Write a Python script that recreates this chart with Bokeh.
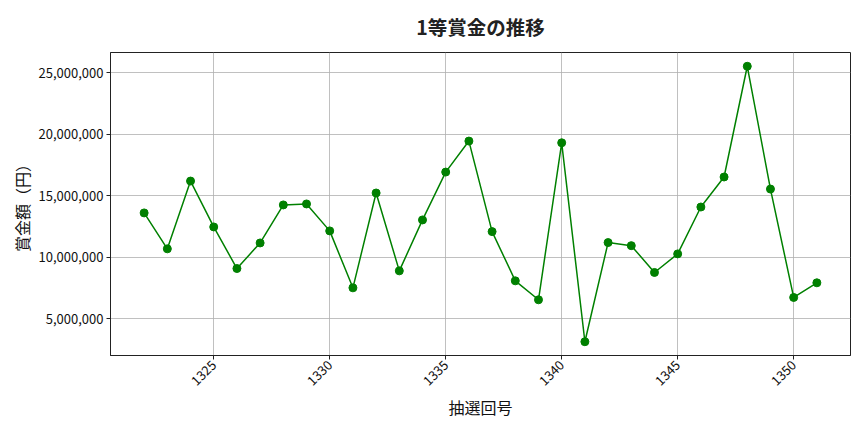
import math
from bokeh.plotting import figure
from bokeh.models import (ColumnDataSource, NumeralTickFormatter, SingleIntervalTicker,
                          Range1d, Title)
from bokeh.embed import file_html
from bokeh.resources import INLINE

draws = list(range(1322, 1352))
prizes = [13600000, 10680000, 16190000, 12460000, 9080000, 11160000, 14250000, 14330000,
          12140000, 7510000, 15220000, 8890000, 13030000, 16920000, 19440000, 12080000,
          8080000, 6540000, 19300000, 3130000, 11190000, 10940000, 8760000, 10270000,
          14080000, 16520000, 25520000, 15540000, 6730000, 7920000]

title_text = "1等賞金の推移"
x_label = "抽選回号"
y_label = "賞金額（円）"
FONT = "Noto Sans CJK JP"

src = ColumnDataSource(dict(x=draws, y=prizes))

xmin, xmax = min(draws), max(draws)
xr = (xmax - xmin) * 0.05
ymin, ymax = min(prizes), max(prizes)
yr = (ymax - ymin) * 0.05

p = figure(width=856, height=424, output_backend="svg", toolbar_location=None,
           x_range=Range1d(xmin - xr, xmax + xr), y_range=Range1d(ymin - yr, ymax + yr),
           min_border_left=110, min_border_right=6, min_border_top=52, min_border_bottom=69)

p.title = Title(text=title_text, align="center", vertical_align="top", text_font=FONT,
                text_font_size="19.5px", text_font_style="bold", text_color="#222222",
                standoff=20)

p.line("x", "y", source=src, line_color="#008000", line_width=1.5)
p.scatter("x", "y", source=src, size=8, fill_color="#008000", line_color="#008000")

p.xaxis.ticker = SingleIntervalTicker(interval=5, num_minor_ticks=0)
p.yaxis.ticker = SingleIntervalTicker(interval=5000000, num_minor_ticks=0)
p.yaxis.formatter = NumeralTickFormatter(format="0,0")
p.xaxis.major_label_orientation = math.pi / 4

for ax in (p.xaxis, p.yaxis):
    ax.axis_label_text_font = FONT
    ax.axis_label_text_font_style = "normal"
    ax.axis_label_text_font_size = "16px"
    ax.axis_label_text_color = "#111111"
    ax.major_label_text_font = FONT
    ax.major_label_text_font_size = "13px"
    ax.major_label_text_color = "#111111"
    ax.major_label_standoff = 3
    ax.major_tick_out = 4
    ax.major_tick_in = 0
    ax.minor_tick_out = 0
    ax.minor_tick_in = 0
    ax.axis_line_color = "#222222"
    ax.major_tick_line_color = "#222222"

p.xaxis.axis_label = x_label
p.yaxis.axis_label = y_label
p.xaxis.axis_label_standoff = 2
p.yaxis.axis_label_standoff = 2

p.grid.grid_line_color = "#b0b0b0"
p.grid.grid_line_width = 0.8
p.outline_line_color = "#222222"
p.outline_line_width = 1
p.background_fill_color = "white"
p.border_fill_color = "white"

open("out.html", "w").write(file_html(p, INLINE))
